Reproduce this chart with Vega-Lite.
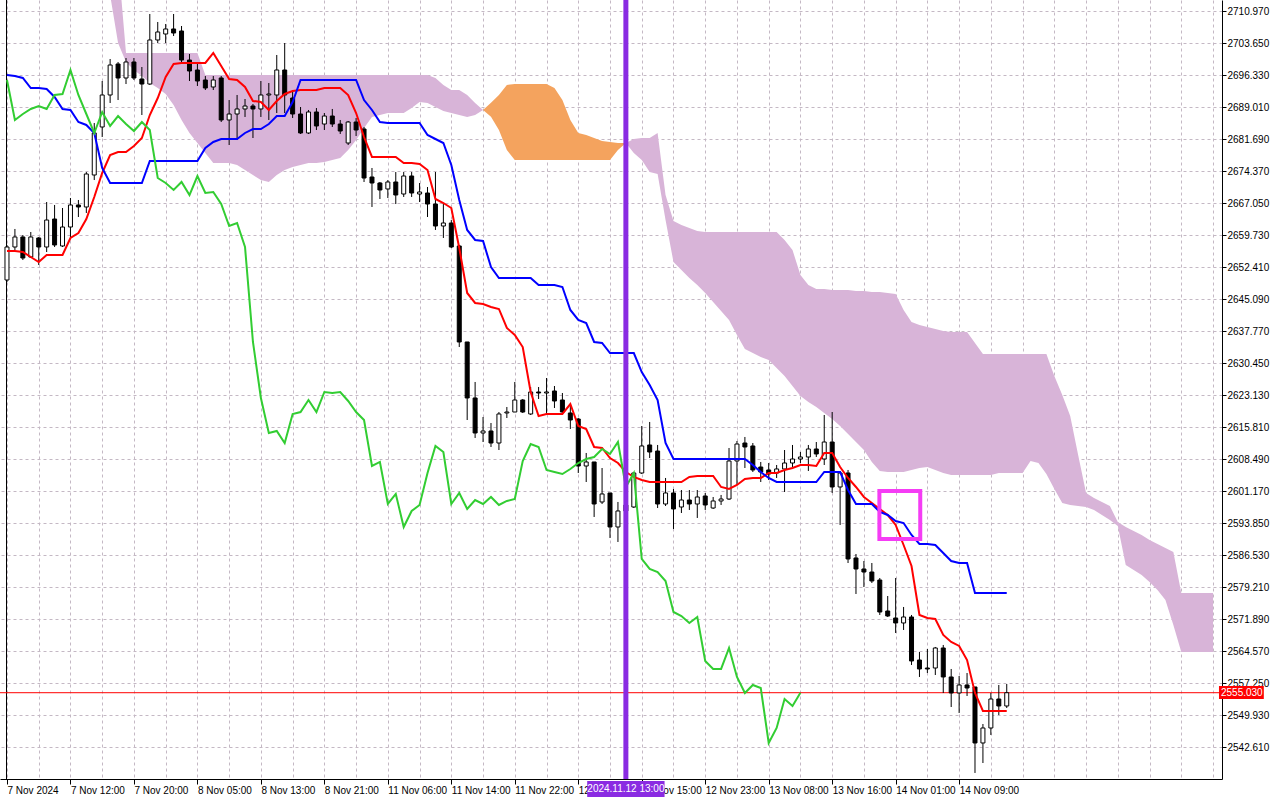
{
"$schema": "https://vega.github.io/schema/vega-lite/v6.json",
"width": 1222, "height": 779,
"autosize": {"type": "none"},
"padding": {"left": 0, "top": 0, "right": 58, "bottom": 21},
"background": "white",
"config": {
 "view": {"stroke": null},
 "axis": {"labelFont": "Liberation Sans", "labelFontSize": 10, "labelColor": "black", "domainColor": "black", "tickColor": "black", "gridColor": "#c4b8c4", "gridDash": [3,3], "gridWidth": 1, "labelOverlap": false}
},
"datasets": {
"bars": [
{"i":0,"o":2649.44,"h":2657.45,"l":2648.98,"c":2656.99,"tk":2656.07,"kj":2696.33,"ck":2695.19},
{"i":1,"o":2656.99,"h":2661.11,"l":2656.30,"c":2659.28,"tk":2656.07,"kj":2696.10,"ck":2686.04},
{"i":2,"o":2659.28,"h":2659.73,"l":2654.01,"c":2654.47,"tk":2655.84,"kj":2695.65,"ck":2687.41},
{"i":3,"o":2654.70,"h":2660.42,"l":2654.47,"c":2659.28,"tk":2654.70,"kj":2693.36,"ck":2688.56},
{"i":4,"o":2659.05,"h":2659.28,"l":2652.87,"c":2656.99,"tk":2653.56,"kj":2693.36,"ck":2689.24},
{"i":5,"o":2656.99,"h":2667.28,"l":2655.84,"c":2663.16,"tk":2655.16,"kj":2693.13,"ck":2688.56},
{"i":6,"o":2663.39,"h":2666.60,"l":2656.99,"c":2657.45,"tk":2655.16,"kj":2691.30,"ck":2691.76},
{"i":7,"o":2657.22,"h":2665.91,"l":2656.99,"c":2661.56,"tk":2655.16,"kj":2688.56,"ck":2691.99},
{"i":8,"o":2661.56,"h":2668.20,"l":2659.28,"c":2666.60,"tk":2659.05,"kj":2688.33,"ck":2697.48},
{"i":9,"o":2666.60,"h":2667.74,"l":2663.85,"c":2666.14,"tk":2660.19,"kj":2685.58,"ck":2691.76},
{"i":10,"o":2666.14,"h":2674.14,"l":2664.77,"c":2673.69,"tk":2663.39,"kj":2684.90,"ck":2687.41},
{"i":11,"o":2673.46,"h":2685.35,"l":2672.31,"c":2683.07,"tk":2668.43,"kj":2683.07,"ck":2683.07},
{"i":12,"o":2684.44,"h":2694.96,"l":2682.15,"c":2691.76,"tk":2673.92,"kj":2675.06,"ck":2687.87},
{"i":13,"o":2691.76,"h":2699.99,"l":2689.93,"c":2698.62,"tk":2678.03,"kj":2671.63,"ck":2684.67},
{"i":14,"o":2698.85,"h":2699.31,"l":2690.61,"c":2695.65,"tk":2678.72,"kj":2671.63,"ck":2686.95},
{"i":15,"o":2695.65,"h":2700.22,"l":2694.27,"c":2699.31,"tk":2678.72,"kj":2671.63,"ck":2685.12},
{"i":16,"o":2699.31,"h":2700.22,"l":2695.19,"c":2695.65,"tk":2680.09,"kj":2671.63,"ck":2683.52},
{"i":17,"o":2695.42,"h":2698.16,"l":2687.18,"c":2694.27,"tk":2681.92,"kj":2671.63,"ck":2685.58},
{"i":18,"o":2694.27,"h":2710.29,"l":2694.05,"c":2704.34,"tk":2687.18,"kj":2676.66,"ck":2683.75},
{"i":19,"o":2704.34,"h":2708.46,"l":2703.65,"c":2706.17,"tk":2691.07,"kj":2676.66,"ck":2672.77},
{"i":20,"o":2705.71,"h":2708.00,"l":2703.65,"c":2706.86,"tk":2695.88,"kj":2676.66,"ck":2671.63},
{"i":21,"o":2706.86,"h":2710.29,"l":2705.25,"c":2705.94,"tk":2698.85,"kj":2676.66,"ck":2670.03},
{"i":22,"o":2706.40,"h":2707.54,"l":2699.08,"c":2699.76,"tk":2699.08,"kj":2676.66,"ck":2671.86},
{"i":23,"o":2699.76,"h":2701.14,"l":2694.96,"c":2697.25,"tk":2699.08,"kj":2676.66,"ck":2668.88},
{"i":24,"o":2697.48,"h":2698.85,"l":2693.82,"c":2694.96,"tk":2699.08,"kj":2676.66,"ck":2673.23},
{"i":25,"o":2695.19,"h":2696.10,"l":2692.90,"c":2693.36,"tk":2699.08,"kj":2679.63,"ck":2669.34},
{"i":26,"o":2693.59,"h":2696.10,"l":2692.90,"c":2695.19,"tk":2701.37,"kj":2681.01,"ck":2669.57},
{"i":27,"o":2695.65,"h":2696.10,"l":2685.58,"c":2686.04,"tk":2698.39,"kj":2681.69,"ck":2666.82},
{"i":28,"o":2686.04,"h":2690.61,"l":2680.32,"c":2687.41,"tk":2695.42,"kj":2681.69,"ck":2661.79},
{"i":29,"o":2687.41,"h":2691.76,"l":2681.46,"c":2688.56,"tk":2695.19,"kj":2681.69,"ck":2662.48},
{"i":30,"o":2688.56,"h":2690.84,"l":2686.73,"c":2689.24,"tk":2693.59,"kj":2683.07,"ck":2656.99},
{"i":31,"o":2689.24,"h":2689.70,"l":2681.92,"c":2688.56,"tk":2690.39,"kj":2683.98,"ck":2635.26},
{"i":32,"o":2688.56,"h":2694.96,"l":2686.73,"c":2691.76,"tk":2690.16,"kj":2683.98,"ck":2622.45},
{"i":33,"o":2691.76,"h":2694.50,"l":2686.04,"c":2691.99,"tk":2688.33,"kj":2685.12,"ck":2614.44},
{"i":34,"o":2691.76,"h":2700.91,"l":2687.64,"c":2697.48,"tk":2690.39,"kj":2686.95,"ck":2614.90},
{"i":35,"o":2697.48,"h":2703.65,"l":2687.64,"c":2691.76,"tk":2691.99,"kj":2686.95,"ck":2612.15},
{"i":36,"o":2691.07,"h":2692.90,"l":2686.50,"c":2687.41,"tk":2692.67,"kj":2690.16,"ck":2618.79},
{"i":37,"o":2687.41,"h":2689.01,"l":2682.84,"c":2683.07,"tk":2692.90,"kj":2695.19,"ck":2619.24},
{"i":38,"o":2683.07,"h":2688.33,"l":2682.84,"c":2687.87,"tk":2692.90,"kj":2695.19,"ck":2621.99},
{"i":39,"o":2687.87,"h":2688.78,"l":2683.75,"c":2684.67,"tk":2692.90,"kj":2695.19,"ck":2619.24},
{"i":40,"o":2685.12,"h":2687.64,"l":2683.75,"c":2686.95,"tk":2693.36,"kj":2695.19,"ck":2623.82},
{"i":41,"o":2686.95,"h":2688.56,"l":2684.44,"c":2685.12,"tk":2693.36,"kj":2695.19,"ck":2623.59},
{"i":42,"o":2685.12,"h":2686.04,"l":2682.84,"c":2683.52,"tk":2693.36,"kj":2695.19,"ck":2623.82},
{"i":43,"o":2680.78,"h":2685.81,"l":2680.32,"c":2685.58,"tk":2691.76,"kj":2695.19,"ck":2621.76},
{"i":44,"o":2685.58,"h":2686.50,"l":2682.38,"c":2683.75,"tk":2687.64,"kj":2695.19,"ck":2619.24},
{"i":45,"o":2683.98,"h":2684.44,"l":2671.86,"c":2672.77,"tk":2682.15,"kj":2690.61,"ck":2617.41},
{"i":46,"o":2673.00,"h":2675.06,"l":2666.14,"c":2671.63,"tk":2677.58,"kj":2688.33,"ck":2606.89},
{"i":47,"o":2671.63,"h":2671.86,"l":2667.97,"c":2670.03,"tk":2677.58,"kj":2685.58,"ck":2607.81},
{"i":48,"o":2670.26,"h":2672.31,"l":2668.20,"c":2671.86,"tk":2677.58,"kj":2685.35,"ck":2598.20},
{"i":49,"o":2671.86,"h":2674.14,"l":2666.82,"c":2668.88,"tk":2677.58,"kj":2685.35,"ck":2600.49},
{"i":50,"o":2669.11,"h":2674.14,"l":2668.43,"c":2673.23,"tk":2676.20,"kj":2685.35,"ck":2592.94},
{"i":51,"o":2673.23,"h":2674.14,"l":2668.43,"c":2669.34,"tk":2676.20,"kj":2685.35,"ck":2596.60},
{"i":52,"o":2669.11,"h":2671.63,"l":2667.28,"c":2669.57,"tk":2675.97,"kj":2685.35,"ck":2597.97},
{"i":53,"o":2669.34,"h":2670.71,"l":2663.85,"c":2666.82,"tk":2674.60,"kj":2682.61,"ck":2605.29},
{"i":54,"o":2666.82,"h":2674.14,"l":2660.88,"c":2661.79,"tk":2667.97,"kj":2681.69,"ck":2611.47},
{"i":55,"o":2661.79,"h":2666.82,"l":2659.05,"c":2662.48,"tk":2667.05,"kj":2680.78,"ck":2610.09},
{"i":56,"o":2662.48,"h":2663.16,"l":2656.76,"c":2656.99,"tk":2665.91,"kj":2675.75,"ck":2598.20},
{"i":57,"o":2657.22,"h":2657.45,"l":2634.11,"c":2635.26,"tk":2656.76,"kj":2667.74,"ck":2600.72},
{"i":58,"o":2635.26,"h":2635.26,"l":2617.41,"c":2622.45,"tk":2646.47,"kj":2660.88,"ck":2597.06},
{"i":59,"o":2622.45,"h":2626.11,"l":2613.30,"c":2614.44,"tk":2644.18,"kj":2658.59,"ck":2599.11},
{"i":60,"o":2614.44,"h":2618.10,"l":2612.38,"c":2614.90,"tk":2643.95,"kj":2658.36,"ck":2598.20},
{"i":61,"o":2614.90,"h":2616.73,"l":2611.24,"c":2612.15,"tk":2643.26,"kj":2652.41,"ck":2599.80},
{"i":62,"o":2612.15,"h":2619.24,"l":2610.55,"c":2618.79,"tk":2642.81,"kj":2649.90,"ck":2597.97},
{"i":63,"o":2619.02,"h":2620.39,"l":2617.87,"c":2619.24,"tk":2638.46,"kj":2649.90,"ck":2598.89},
{"i":64,"o":2619.24,"h":2626.11,"l":2619.24,"c":2621.99,"tk":2636.86,"kj":2649.90,"ck":2599.34},
{"i":65,"o":2621.99,"h":2622.22,"l":2619.02,"c":2619.24,"tk":2634.11,"kj":2649.90,"ck":2608.04},
{"i":66,"o":2618.79,"h":2624.96,"l":2618.56,"c":2623.82,"tk":2623.82,"kj":2649.90,"ck":2611.92},
{"i":67,"o":2623.82,"h":2624.96,"l":2622.22,"c":2623.59,"tk":2618.33,"kj":2648.30,"ck":2611.24},
{"i":68,"o":2623.59,"h":2627.02,"l":2619.02,"c":2623.82,"tk":2618.79,"kj":2648.30,"ck":2605.98},
{"i":69,"o":2624.05,"h":2625.19,"l":2620.16,"c":2621.76,"tk":2618.79,"kj":2648.30,"ck":2605.52},
{"i":70,"o":2621.99,"h":2623.59,"l":2619.02,"c":2619.24,"tk":2618.79,"kj":2647.84,"ck":2605.06},
{"i":71,"o":2619.02,"h":2620.62,"l":2615.36,"c":2617.41,"tk":2621.07,"kj":2642.58,"ck":2606.21},
{"i":72,"o":2617.64,"h":2617.87,"l":2605.29,"c":2606.89,"tk":2616.04,"kj":2640.29,"ck":2607.58},
{"i":73,"o":2606.89,"h":2609.87,"l":2603.23,"c":2607.81,"tk":2615.36,"kj":2639.60,"ck":2608.49},
{"i":74,"o":2607.81,"h":2607.81,"l":2595.23,"c":2598.20,"tk":2611.24,"kj":2635.26,"ck":2608.95},
{"i":75,"o":2598.66,"h":2606.43,"l":2598.20,"c":2600.49,"tk":2611.01,"kj":2635.03,"ck":2610.78},
{"i":76,"o":2600.72,"h":2600.72,"l":2590.42,"c":2592.94,"tk":2608.72,"kj":2632.74,"ck":2609.64},
{"i":77,"o":2592.94,"h":2598.66,"l":2589.51,"c":2596.60,"tk":2607.58,"kj":2632.74,"ck":2612.38},
{"i":78,"o":2596.60,"h":2600.26,"l":2594.08,"c":2597.97,"tk":2605.52,"kj":2632.74,"ck":2602.09},
{"i":79,"o":2597.51,"h":2605.52,"l":2597.28,"c":2605.29,"tk":2604.38,"kj":2632.74,"ck":2605.29},
{"i":80,"o":2605.29,"h":2616.04,"l":2605.06,"c":2611.47,"tk":2603.69,"kj":2628.39,"ck":2585.62},
{"i":81,"o":2611.70,"h":2616.96,"l":2608.72,"c":2610.09,"tk":2603.23,"kj":2625.42,"ck":2583.33},
{"i":82,"o":2610.32,"h":2611.70,"l":2597.28,"c":2598.20,"tk":2603.23,"kj":2621.99,"ck":2582.64},
{"i":83,"o":2598.20,"h":2604.15,"l":2597.74,"c":2600.72,"tk":2603.23,"kj":2612.15,"ck":2580.59},
{"i":84,"o":2600.72,"h":2601.63,"l":2592.48,"c":2597.06,"tk":2603.23,"kj":2608.49,"ck":2573.49},
{"i":85,"o":2597.51,"h":2601.40,"l":2596.14,"c":2599.11,"tk":2603.23,"kj":2608.49,"ck":2572.58},
{"i":86,"o":2599.11,"h":2601.40,"l":2596.83,"c":2598.20,"tk":2604.38,"kj":2608.49,"ck":2570.98},
{"i":87,"o":2598.20,"h":2601.40,"l":2595.00,"c":2599.80,"tk":2604.60,"kj":2608.49,"ck":2572.35},
{"i":88,"o":2600.03,"h":2600.72,"l":2596.83,"c":2597.97,"tk":2604.60,"kj":2608.49,"ck":2562.29},
{"i":89,"o":2597.28,"h":2599.80,"l":2597.06,"c":2598.89,"tk":2604.60,"kj":2608.49,"ck":2560.46},
{"i":90,"o":2598.89,"h":2600.26,"l":2597.97,"c":2599.34,"tk":2602.09,"kj":2608.49,"ck":2560.46},
{"i":91,"o":2599.34,"h":2611.01,"l":2599.11,"c":2608.04,"tk":2601.63,"kj":2608.49,"ck":2565.26},
{"i":92,"o":2608.04,"h":2612.61,"l":2602.55,"c":2611.92,"tk":2602.55,"kj":2608.49,"ck":2558.63},
{"i":93,"o":2612.15,"h":2613.53,"l":2606.43,"c":2611.24,"tk":2603.92,"kj":2608.49,"ck":2554.97},
{"i":94,"o":2611.47,"h":2612.15,"l":2605.52,"c":2605.98,"tk":2604.15,"kj":2607.12,"ck":2556.80},
{"i":95,"o":2606.66,"h":2607.81,"l":2603.23,"c":2605.52,"tk":2604.15,"kj":2605.52,"ck":2556.11},
{"i":96,"o":2605.98,"h":2607.58,"l":2603.69,"c":2605.06,"tk":2605.29,"kj":2604.15,"ck":2543.53},
{"i":97,"o":2605.29,"h":2607.12,"l":2604.15,"c":2606.21,"tk":2605.29,"kj":2603.23,"ck":2546.96},
{"i":98,"o":2606.21,"h":2610.55,"l":2600.94,"c":2607.58,"tk":2605.98,"kj":2603.23,"ck":2553.59},
{"i":99,"o":2607.58,"h":2611.70,"l":2606.66,"c":2608.49,"tk":2606.43,"kj":2603.23,"ck":2551.99},
{"i":100,"o":2608.49,"h":2610.09,"l":2607.58,"c":2608.95,"tk":2607.12,"kj":2603.23,"ck":2555.03},
{"i":101,"o":2608.95,"h":2611.70,"l":2605.75,"c":2610.78,"tk":2607.12,"kj":2603.23},
{"i":102,"o":2610.78,"h":2612.38,"l":2608.95,"c":2609.64,"tk":2606.89,"kj":2603.23},
{"i":103,"o":2608.49,"h":2618.56,"l":2607.12,"c":2612.38,"tk":2609.87,"kj":2605.52},
{"i":104,"o":2612.38,"h":2619.24,"l":2600.72,"c":2602.09,"tk":2609.87,"kj":2605.52},
{"i":105,"o":2602.09,"h":2605.75,"l":2593.40,"c":2605.29,"tk":2606.66,"kj":2605.52},
{"i":106,"o":2605.29,"h":2605.98,"l":2584.70,"c":2585.62,"tk":2604.15,"kj":2601.40},
{"i":107,"o":2585.85,"h":2586.76,"l":2577.61,"c":2583.33,"tk":2602.09,"kj":2598.20},
{"i":108,"o":2583.33,"h":2585.16,"l":2579.21,"c":2582.64,"tk":2599.80,"kj":2598.20},
{"i":109,"o":2582.64,"h":2584.70,"l":2580.13,"c":2580.59,"tk":2598.43,"kj":2598.20},
{"i":110,"o":2580.81,"h":2581.27,"l":2572.81,"c":2573.49,"tk":2597.06,"kj":2596.37},
{"i":111,"o":2573.72,"h":2577.15,"l":2572.35,"c":2572.58,"tk":2595.68,"kj":2595.68},
{"i":112,"o":2572.12,"h":2581.27,"l":2568.69,"c":2570.98,"tk":2593.40,"kj":2594.31},
{"i":113,"o":2570.98,"h":2574.64,"l":2569.38,"c":2572.35,"tk":2588.82,"kj":2593.85},
{"i":114,"o":2572.35,"h":2572.81,"l":2561.37,"c":2562.29,"tk":2584.02,"kj":2591.11},
{"i":115,"o":2562.51,"h":2564.34,"l":2558.63,"c":2560.46,"tk":2572.81,"kj":2589.05},
{"i":116,"o":2560.68,"h":2565.03,"l":2559.54,"c":2560.46,"tk":2572.12,"kj":2589.05},
{"i":117,"o":2560.68,"h":2565.49,"l":2559.08,"c":2565.26,"tk":2571.89,"kj":2588.82},
{"i":118,"o":2565.26,"h":2565.95,"l":2554.97,"c":2558.63,"tk":2568.23,"kj":2586.99},
{"i":119,"o":2558.63,"h":2560.46,"l":2551.76,"c":2554.97,"tk":2566.63,"kj":2585.16},
{"i":120,"o":2554.97,"h":2558.85,"l":2550.39,"c":2556.80,"tk":2565.72,"kj":2584.70},
{"i":121,"o":2556.80,"h":2559.54,"l":2554.28,"c":2556.11,"tk":2562.51,"kj":2584.70},
{"i":122,"o":2556.34,"h":2556.34,"l":2536.67,"c":2543.53,"tk":2554.97,"kj":2577.84},
{"i":123,"o":2543.53,"h":2547.87,"l":2538.95,"c":2546.96,"tk":2550.85,"kj":2577.84},
{"i":124,"o":2546.96,"h":2554.97,"l":2545.36,"c":2553.59,"tk":2550.85,"kj":2577.84},
{"i":125,"o":2553.59,"h":2556.80,"l":2549.93,"c":2551.99,"tk":2550.85,"kj":2577.84},
{"i":126,"o":2551.99,"h":2557.02,"l":2551.53,"c":2555.03,"tk":2550.85,"kj":2577.84}
],
"cloud": [
{"i":12,"top":2731.79,"bot":2722.64,"seg":"a","kind":"bear"},
{"i":13,"top":2727.22,"bot":2714.63,"seg":"a","kind":"bear"},
{"i":14,"top":2722.64,"bot":2703.65,"seg":"a","kind":"bear"},
{"i":15,"top":2701.37,"bot":2699.31,"seg":"a","kind":"bear"},
{"i":16,"top":2701.37,"bot":2697.48,"seg":"a","kind":"bear"},
{"i":17,"top":2701.37,"bot":2696.10,"seg":"a","kind":"bear"},
{"i":18,"top":2701.37,"bot":2694.50,"seg":"a","kind":"bear"},
{"i":19,"top":2701.37,"bot":2693.36,"seg":"a","kind":"bear"},
{"i":20,"top":2701.37,"bot":2691.99,"seg":"a","kind":"bear"},
{"i":21,"top":2701.37,"bot":2689.47,"seg":"a","kind":"bear"},
{"i":22,"top":2701.37,"bot":2686.04,"seg":"a","kind":"bear"},
{"i":23,"top":2701.37,"bot":2683.07,"seg":"a","kind":"bear"},
{"i":24,"top":2701.37,"bot":2680.78,"seg":"a","kind":"bear"},
{"i":25,"top":2696.33,"bot":2678.49,"seg":"a","kind":"bear"},
{"i":26,"top":2696.33,"bot":2676.20,"seg":"a","kind":"bear"},
{"i":27,"top":2696.33,"bot":2676.20,"seg":"a","kind":"bear"},
{"i":28,"top":2696.33,"bot":2676.20,"seg":"a","kind":"bear"},
{"i":29,"top":2696.33,"bot":2675.75,"seg":"a","kind":"bear"},
{"i":30,"top":2696.33,"bot":2674.60,"seg":"a","kind":"bear"},
{"i":31,"top":2696.33,"bot":2673.46,"seg":"a","kind":"bear"},
{"i":32,"top":2696.33,"bot":2672.31,"seg":"a","kind":"bear"},
{"i":33,"top":2696.33,"bot":2671.86,"seg":"a","kind":"bear"},
{"i":34,"top":2696.33,"bot":2673.46,"seg":"a","kind":"bear"},
{"i":35,"top":2696.33,"bot":2674.60,"seg":"a","kind":"bear"},
{"i":36,"top":2696.33,"bot":2675.29,"seg":"a","kind":"bear"},
{"i":37,"top":2696.33,"bot":2675.75,"seg":"a","kind":"bear"},
{"i":38,"top":2696.33,"bot":2676.20,"seg":"a","kind":"bear"},
{"i":39,"top":2696.33,"bot":2676.20,"seg":"a","kind":"bear"},
{"i":40,"top":2696.33,"bot":2676.43,"seg":"a","kind":"bear"},
{"i":41,"top":2696.33,"bot":2676.89,"seg":"a","kind":"bear"},
{"i":42,"top":2696.33,"bot":2677.35,"seg":"a","kind":"bear"},
{"i":43,"top":2696.33,"bot":2679.18,"seg":"a","kind":"bear"},
{"i":44,"top":2696.33,"bot":2681.46,"seg":"a","kind":"bear"},
{"i":45,"top":2696.33,"bot":2684.21,"seg":"a","kind":"bear"},
{"i":46,"top":2696.33,"bot":2686.73,"seg":"a","kind":"bear"},
{"i":47,"top":2696.33,"bot":2687.18,"seg":"a","kind":"bear"},
{"i":48,"top":2696.33,"bot":2687.64,"seg":"a","kind":"bear"},
{"i":49,"top":2696.33,"bot":2687.64,"seg":"a","kind":"bear"},
{"i":50,"top":2696.33,"bot":2687.64,"seg":"a","kind":"bear"},
{"i":51,"top":2696.33,"bot":2688.78,"seg":"a","kind":"bear"},
{"i":52,"top":2696.33,"bot":2690.16,"seg":"a","kind":"bear"},
{"i":53,"top":2696.33,"bot":2689.93,"seg":"a","kind":"bear"},
{"i":54,"top":2695.65,"bot":2689.01,"seg":"a","kind":"bear"},
{"i":55,"top":2694.05,"bot":2688.10,"seg":"a","kind":"bear"},
{"i":56,"top":2692.90,"bot":2687.64,"seg":"a","kind":"bear"},
{"i":57,"top":2692.90,"bot":2687.18,"seg":"a","kind":"bear"},
{"i":58,"top":2691.76,"bot":2686.73,"seg":"a","kind":"bear"},
{"i":59,"top":2689.93,"bot":2687.18,"seg":"a","kind":"bear"},
{"i":60,"top":2688.33,"bot":2688.33,"seg":"a","kind":"bear"},
{"i":60,"top":2688.33,"bot":2688.33,"seg":"b","kind":"bull"},
{"i":61,"top":2689.99,"bot":2686.80,"seg":"b","kind":"bull"},
{"i":62,"top":2691.76,"bot":2683.75,"seg":"b","kind":"bull"},
{"i":63,"top":2694.05,"bot":2679.18,"seg":"b","kind":"bull"},
{"i":64,"top":2694.27,"bot":2676.89,"seg":"b","kind":"bull"},
{"i":65,"top":2694.27,"bot":2676.89,"seg":"b","kind":"bull"},
{"i":66,"top":2694.27,"bot":2676.89,"seg":"b","kind":"bull"},
{"i":67,"top":2694.27,"bot":2676.89,"seg":"b","kind":"bull"},
{"i":68,"top":2694.27,"bot":2676.89,"seg":"b","kind":"bull"},
{"i":69,"top":2693.36,"bot":2676.89,"seg":"b","kind":"bull"},
{"i":70,"top":2690.61,"bot":2676.89,"seg":"b","kind":"bull"},
{"i":71,"top":2686.04,"bot":2676.89,"seg":"b","kind":"bull"},
{"i":72,"top":2683.07,"bot":2676.89,"seg":"b","kind":"bull"},
{"i":73,"top":2682.61,"bot":2676.89,"seg":"b","kind":"bull"},
{"i":74,"top":2681.92,"bot":2676.89,"seg":"b","kind":"bull"},
{"i":75,"top":2681.24,"bot":2676.89,"seg":"b","kind":"bull"},
{"i":76,"top":2681.01,"bot":2676.89,"seg":"b","kind":"bull"},
{"i":77,"top":2680.78,"bot":2679.18,"seg":"b","kind":"bull"},
{"i":78,"top":2680.78,"bot":2680.78,"seg":"b","kind":"bull"},
{"i":78,"top":2680.78,"bot":2680.78,"seg":"c","kind":"bear"},
{"i":79,"top":2681.69,"bot":2678.49,"seg":"c","kind":"bear"},
{"i":80,"top":2681.92,"bot":2676.89,"seg":"c","kind":"bear"},
{"i":81,"top":2681.92,"bot":2674.14,"seg":"c","kind":"bear"},
{"i":82,"top":2683.07,"bot":2673.69,"seg":"c","kind":"bear"},
{"i":83,"top":2668.88,"bot":2663.16,"seg":"c","kind":"bear"},
{"i":84,"top":2662.94,"bot":2653.56,"seg":"c","kind":"bear"},
{"i":85,"top":2662.02,"bot":2651.73,"seg":"c","kind":"bear"},
{"i":86,"top":2661.33,"bot":2649.90,"seg":"c","kind":"bear"},
{"i":87,"top":2660.65,"bot":2648.30,"seg":"c","kind":"bear"},
{"i":88,"top":2660.42,"bot":2646.47,"seg":"c","kind":"bear"},
{"i":89,"top":2660.42,"bot":2644.41,"seg":"c","kind":"bear"},
{"i":90,"top":2660.42,"bot":2642.35,"seg":"c","kind":"bear"},
{"i":91,"top":2660.42,"bot":2640.29,"seg":"c","kind":"bear"},
{"i":92,"top":2660.42,"bot":2636.86,"seg":"c","kind":"bear"},
{"i":93,"top":2660.42,"bot":2633.66,"seg":"c","kind":"bear"},
{"i":94,"top":2660.42,"bot":2632.74,"seg":"c","kind":"bear"},
{"i":95,"top":2660.42,"bot":2631.83,"seg":"c","kind":"bear"},
{"i":96,"top":2660.42,"bot":2631.14,"seg":"c","kind":"bear"},
{"i":97,"top":2660.42,"bot":2629.31,"seg":"c","kind":"bear"},
{"i":98,"top":2658.59,"bot":2627.48,"seg":"c","kind":"bear"},
{"i":99,"top":2656.30,"bot":2625.19,"seg":"c","kind":"bear"},
{"i":100,"top":2650.58,"bot":2622.90,"seg":"c","kind":"bear"},
{"i":101,"top":2648.30,"bot":2621.53,"seg":"c","kind":"bear"},
{"i":102,"top":2647.38,"bot":2620.39,"seg":"c","kind":"bear"},
{"i":103,"top":2647.38,"bot":2619.02,"seg":"c","kind":"bear"},
{"i":104,"top":2647.15,"bot":2617.64,"seg":"c","kind":"bear"},
{"i":105,"top":2647.15,"bot":2616.04,"seg":"c","kind":"bear"},
{"i":106,"top":2647.15,"bot":2614.21,"seg":"c","kind":"bear"},
{"i":107,"top":2646.92,"bot":2612.38,"seg":"c","kind":"bear"},
{"i":108,"top":2646.92,"bot":2610.55,"seg":"c","kind":"bear"},
{"i":109,"top":2646.69,"bot":2607.81,"seg":"c","kind":"bear"},
{"i":110,"top":2646.69,"bot":2605.75,"seg":"c","kind":"bear"},
{"i":111,"top":2646.47,"bot":2605.52,"seg":"c","kind":"bear"},
{"i":112,"top":2646.24,"bot":2605.52,"seg":"c","kind":"bear"},
{"i":113,"top":2642.58,"bot":2605.52,"seg":"c","kind":"bear"},
{"i":114,"top":2639.83,"bot":2605.98,"seg":"c","kind":"bear"},
{"i":115,"top":2639.15,"bot":2606.43,"seg":"c","kind":"bear"},
{"i":116,"top":2638.69,"bot":2606.66,"seg":"c","kind":"bear"},
{"i":117,"top":2638.23,"bot":2605.98,"seg":"c","kind":"bear"},
{"i":118,"top":2637.77,"bot":2605.29,"seg":"c","kind":"bear"},
{"i":119,"top":2637.54,"bot":2604.83,"seg":"c","kind":"bear"},
{"i":120,"top":2637.54,"bot":2604.83,"seg":"c","kind":"bear"},
{"i":121,"top":2637.54,"bot":2604.83,"seg":"c","kind":"bear"},
{"i":122,"top":2635.03,"bot":2604.83,"seg":"c","kind":"bear"},
{"i":123,"top":2632.51,"bot":2604.83,"seg":"c","kind":"bear"},
{"i":124,"top":2632.51,"bot":2604.83,"seg":"c","kind":"bear"},
{"i":125,"top":2632.51,"bot":2605.29,"seg":"c","kind":"bear"},
{"i":126,"top":2632.51,"bot":2605.29,"seg":"c","kind":"bear"},
{"i":127,"top":2632.51,"bot":2605.29,"seg":"c","kind":"bear"},
{"i":128,"top":2632.51,"bot":2605.29,"seg":"c","kind":"bear"},
{"i":129,"top":2632.51,"bot":2608.04,"seg":"c","kind":"bear"},
{"i":130,"top":2632.51,"bot":2607.58,"seg":"c","kind":"bear"},
{"i":131,"top":2632.51,"bot":2605.06,"seg":"c","kind":"bear"},
{"i":132,"top":2627.48,"bot":2601.63,"seg":"c","kind":"bear"},
{"i":133,"top":2623.13,"bot":2598.43,"seg":"c","kind":"bear"},
{"i":134,"top":2618.33,"bot":2597.97,"seg":"c","kind":"bear"},
{"i":135,"top":2609.41,"bot":2597.74,"seg":"c","kind":"bear"},
{"i":136,"top":2600.72,"bot":2597.51,"seg":"c","kind":"bear"},
{"i":137,"top":2599.57,"bot":2596.83,"seg":"c","kind":"bear"},
{"i":138,"top":2598.66,"bot":2595.68,"seg":"c","kind":"bear"},
{"i":139,"top":2597.74,"bot":2594.54,"seg":"c","kind":"bear"},
{"i":140,"top":2594.08,"bot":2593.17,"seg":"c","kind":"bear"},
{"i":141,"top":2592.94,"bot":2584.25,"seg":"c","kind":"bear"},
{"i":142,"top":2592.02,"bot":2583.10,"seg":"c","kind":"bear"},
{"i":143,"top":2591.11,"bot":2581.96,"seg":"c","kind":"bear"},
{"i":144,"top":2589.96,"bot":2580.36,"seg":"c","kind":"bear"},
{"i":145,"top":2589.05,"bot":2578.53,"seg":"c","kind":"bear"},
{"i":146,"top":2588.13,"bot":2576.24,"seg":"c","kind":"bear"},
{"i":147,"top":2587.22,"bot":2570.52,"seg":"c","kind":"bear"},
{"i":148,"top":2577.84,"bot":2564.34,"seg":"c","kind":"bear"},
{"i":149,"top":2577.84,"bot":2564.34,"seg":"c","kind":"bear"},
{"i":150,"top":2577.84,"bot":2564.34,"seg":"c","kind":"bear"},
{"i":151,"top":2577.84,"bot":2564.34,"seg":"c","kind":"bear"},
{"i":152,"top":2577.84,"bot":2564.34,"seg":"c","kind":"bear"}
]
},
"layer": [
{
 "data": {"name": "cloud"},
 "mark": {"type": "area", "clip": true, "opacity": 1},
 "encoding": {
  "x": {"field": "i", "type": "quantitative", "title": null, "scale": {"domain": [-0.25, 152.5], "nice": false, "zero": false},
   "axis": {"orient": "bottom", "title": null, "tickCount": 500, "values": [0,4,8,12,16,20,24,28,32,36,40,44,48,52,56,60,64,68,72,76,80,84,88,92,96,100,104,108,112,116,120,124,128,132,136,140,144,148,152],
    "labelExpr": "(datum.value % 8 === 0 && datum.value <= 120) ? ['7 Nov 2024','7 Nov 12:00','7 Nov 20:00','8 Nov 05:00','8 Nov 13:00','8 Nov 21:00','11 Nov 06:00','11 Nov 14:00','11 Nov 22:00','12 Nov 07:00','12 Nov 15:00','12 Nov 23:00','13 Nov 08:00','13 Nov 16:00','14 Nov 01:00','14 Nov 09:00'][datum.value / 8] : ''",
    "tickOpacity": {"condition": {"test": "datum.value % 8 === 0 && datum.value <= 120", "value": 1}, "value": 0},
    "tickSize": 5, "labelAlign": "left", "labelBaseline": "top", "labelPadding": 1, "labelOverlap": false, "labelFlush": false, "labelBound": false, "grid": true, "domain": true}},
  "y": {"field": "top", "type": "quantitative", "title": null, "scale": {"domain": [2535.29, 2713.49], "nice": false, "zero": false},
   "axis": {"orient": "right", "title": null, "tickCount": 500, "values": [2542.61,2549.93,2557.25,2564.57,2571.89,2579.21,2586.53,2593.85,2601.17,2608.49,2615.81,2623.13,2630.45,2637.77,2645.09,2652.41,2659.73,2667.05,2674.37,2681.69,2689.01,2696.33,2703.65,2710.97],
    "format": ".3f", "tickSize": 4, "labelPadding": 1, "labelOverlap": false, "labelFlush": false, "labelBound": false, "labelBaseline": "middle", "grid": true, "domain": true}},
  "y2": {"field": "bot"},
  "color": {"field": "kind", "type": "nominal", "scale": {"domain": ["bear", "bull"], "range": ["#d8b4d8", "#f4a35e"]}, "legend": null},
  "detail": {"field": "seg", "type": "nominal"}
 }
},
{
 "data": {"values": [{"i": -0.06}]},
 "mark": {"type": "rule", "color": "black", "strokeWidth": 1},
 "encoding": {"x": {"field": "i", "type": "quantitative", "title": null, "scale": {"domain": [-0.25, 152.5], "nice": false, "zero": false}}}
},
{
 "data": {"values": [{"price": 2555.03}]},
 "mark": {"type": "rule", "color": "#ff0000", "strokeWidth": 1},
 "encoding": {"y": {"field": "price", "type": "quantitative", "title": null, "scale": {"domain": [2535.29, 2713.49], "nice": false, "zero": false}}}
},
{
 "data": {"name": "bars"},
 "mark": {"type": "rule", "color": "black", "strokeWidth": 1},
 "encoding": {
  "x": {"field": "i", "type": "quantitative", "title": null, "scale": {"domain": [-0.25, 152.5], "nice": false, "zero": false}},
  "y": {"field": "l", "type": "quantitative", "title": null, "scale": {"domain": [2535.29, 2713.49], "nice": false, "zero": false}},
  "y2": {"field": "h"}
 }
},
{
 "data": {"name": "bars"},
 "mark": {"type": "bar", "size": 4, "stroke": "black", "strokeWidth": 1},
 "encoding": {
  "x": {"field": "i", "type": "quantitative", "title": null, "scale": {"domain": [-0.25, 152.5], "nice": false, "zero": false}},
  "y": {"field": "o", "type": "quantitative", "title": null, "scale": {"domain": [2535.29, 2713.49], "nice": false, "zero": false}},
  "y2": {"field": "c"},
  "fill": {"condition": {"test": "datum.c > datum.o", "value": "white"}, "value": "black"}
 }
},
{
 "data": {"name": "bars"},
 "mark": {"type": "line", "color": "#ff0000", "strokeWidth": 2},
 "encoding": {
  "x": {"field": "i", "type": "quantitative", "title": null, "scale": {"domain": [-0.25, 152.5], "nice": false, "zero": false}},
  "y": {"field": "tk", "type": "quantitative", "title": null, "scale": {"domain": [2535.29, 2713.49], "nice": false, "zero": false}}
 }
},
{
 "data": {"name": "bars"},
 "mark": {"type": "line", "color": "#0000ff", "strokeWidth": 2},
 "encoding": {
  "x": {"field": "i", "type": "quantitative", "title": null, "scale": {"domain": [-0.25, 152.5], "nice": false, "zero": false}},
  "y": {"field": "kj", "type": "quantitative", "title": null, "scale": {"domain": [2535.29, 2713.49], "nice": false, "zero": false}}
 }
},
{
 "data": {"name": "bars"},
 "transform": [{"filter": "isValid(datum.ck)"}],
 "mark": {"type": "line", "color": "#32cd32", "strokeWidth": 2},
 "encoding": {
  "x": {"field": "i", "type": "quantitative", "title": null, "scale": {"domain": [-0.25, 152.5], "nice": false, "zero": false}},
  "y": {"field": "ck", "type": "quantitative", "title": null, "scale": {"domain": [2535.29, 2713.49], "nice": false, "zero": false}}
 }
},
{
 "data": {"values": [{"i": 78}]},
 "mark": {"type": "rule", "color": "#8a2be2", "strokeWidth": 5},
 "encoding": {"x": {"field": "i", "type": "quantitative", "title": null, "scale": {"domain": [-0.25, 152.5], "nice": false, "zero": false}}}
},
{
 "data": {"values": [{"x1": 109.95, "x2": 115.1, "p1": 2601.17, "p2": 2590.19}]},
 "mark": {"type": "rect", "filled": false, "stroke": "#f53cf5", "strokeWidth": 4},
 "encoding": {
  "x": {"field": "x1", "type": "quantitative", "title": null, "scale": {"domain": [-0.25, 152.5], "nice": false, "zero": false}},
  "x2": {"field": "x2"},
  "y": {"field": "p1", "type": "quantitative", "title": null, "scale": {"domain": [2535.29, 2713.49], "nice": false, "zero": false}},
  "y2": {"field": "p2"}
 }
},
{
 "data": {"values": [{"x1": 152.75, "x2": 158.4, "p1": 2556.57, "p2": 2553.59}]},
 "mark": {"type": "rect", "color": "#ff0000", "clip": false},
 "encoding": {
  "x": {"field": "x1", "type": "quantitative", "title": null, "scale": {"domain": [-0.25, 152.5], "nice": false, "zero": false}},
  "x2": {"field": "x2"},
  "y": {"field": "p1", "type": "quantitative", "title": null, "scale": {"domain": [2535.29, 2713.49], "nice": false, "zero": false}},
  "y2": {"field": "p2"}
 }
},
{
 "data": {"values": [{"i": 153.0, "price": 2555.03, "label": "2555.030"}]},
 "mark": {"type": "text", "color": "white", "font": "Liberation Sans", "fontSize": 10, "align": "left", "baseline": "middle"},
 "encoding": {
  "x": {"field": "i", "type": "quantitative", "title": null, "scale": {"domain": [-0.25, 152.5], "nice": false, "zero": false}},
  "y": {"field": "price", "type": "quantitative", "title": null, "scale": {"domain": [2535.29, 2713.49], "nice": false, "zero": false}},
  "text": {"field": "label"}
 }
},
{
 "data": {"values": [{"x1": 73.125, "x2": 82.875, "p1": 2534.84, "p2": 2531.18}]},
 "mark": {"type": "rect", "color": "#8a2be2", "clip": false},
 "encoding": {
  "x": {"field": "x1", "type": "quantitative", "title": null, "scale": {"domain": [-0.25, 152.5], "nice": false, "zero": false}},
  "x2": {"field": "x2"},
  "y": {"field": "p1", "type": "quantitative", "title": null, "scale": {"domain": [2535.29, 2713.49], "nice": false, "zero": false}},
  "y2": {"field": "p2"}
 }
},
{
 "data": {"values": [{"i": 78, "price": 2533.0, "label": "2024.11.12 13:00"}]},
 "mark": {"type": "text", "color": "white", "font": "Liberation Sans", "fontSize": 10, "align": "center", "baseline": "middle"},
 "encoding": {
  "x": {"field": "i", "type": "quantitative", "title": null, "scale": {"domain": [-0.25, 152.5], "nice": false, "zero": false}},
  "y": {"field": "price", "type": "quantitative", "title": null, "scale": {"domain": [2535.29, 2713.49], "nice": false, "zero": false}},
  "text": {"field": "label"}
 }
}
]
}
